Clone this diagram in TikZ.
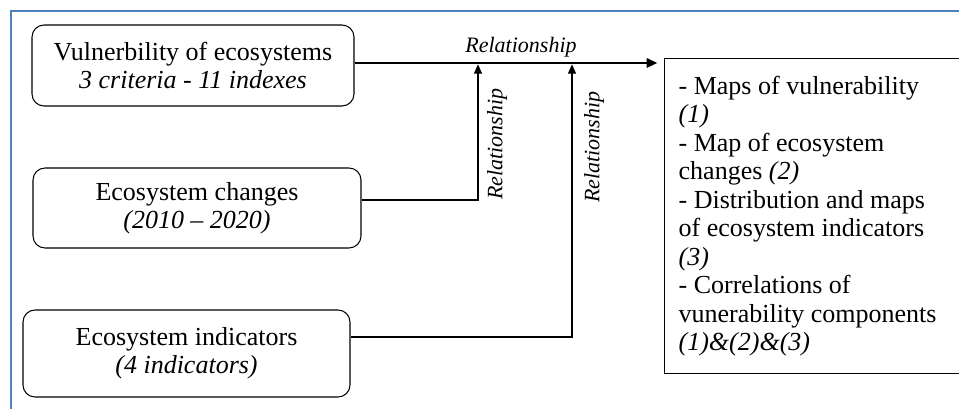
\documentclass[tikz,border=0pt]{standalone}
\usepackage{fontspec}
\setmainfont{Liberation Serif}
\usetikzlibrary{arrows.meta, positioning}

\definecolor{framecol}{RGB}{79,129,189}

\begin{document}
\begin{tikzpicture}[x=0.75pt, y=-0.75pt,
		inbox/.style = {draw, rounded corners=9pt, line width=0.8pt, align=center,
			font=\fontsize{19.5}{21}\selectfont},
		outbox/.style = {draw, line width=1pt, align=flush left, anchor=north west,
			inner xsep=10.5pt, font=\fontsize{19.5}{21.4}\selectfont},
		rel/.style = {font=\fontsize{16.5}{18}\selectfont\itshape, inner sep=0pt},
		relarrow/.style = {line width=0.9pt, -{Triangle[length=7pt, width=6pt]}, shorten >=1pt}]
	\useasboundingbox (0,0) rectangle (959,409);
	\draw[framecol, line width=2pt] (11,11) rectangle (1000,450);
	
	% inputs
	\node[inbox, minimum width=241.5pt, minimum height=60.75pt] (vuln) at (193,65.5)
		{Vulnerbility of ecosystems\\ \textit{3 criteria - 11 indexes}};
	\node[inbox, minimum width=246pt, minimum height=60pt] (chg) at (197,208)
		{Ecosystem changes\\ \textit{(2010 -- 2020)}};
	\node[inbox, minimum width=245.25pt, minimum height=65.25pt] (ind) at (186.5,353.5)
		{Ecosystem indicators\\ \textit{(4 indicators)}};
	
	% outputs
	\node[outbox, text width=219pt, minimum width=240pt, minimum height=236.25pt] (maps) at (664,58)
		{- Maps of vulnerability\\ \textit{(1)}\\ - Map of ecosystem\\ changes \textit{(2)}\\
		 - Distribution and maps\\ of ecosystem indicators\\ \textit{(3)}\\
		 - Correlations of\\ vunerability components\\ \textit{(1)\&(2)\&(3)}};
	
	\coordinate (j1) at (478,63);
	\coordinate (j2) at (572,63);
	
	\draw[line width=1.5pt, -{Triangle[length=8pt, width=7pt]}, shorten >=5pt]
		([yshift=1.9pt]vuln.east) -- ([yshift=1.9pt]vuln.east -| maps.west);
	\draw[relarrow] ([yshift=6pt]chg.east) -| (j1);
	\draw[relarrow] ([yshift=12.4pt]ind.east) -| (j2);
	
	\node[rel] (relmain) at (521,47) {Relationship};
	\node[rel, rotate=90] (rel1) at (497,144) {Relationship};
	\node[rel, rotate=90] (rel2) at (594,147) {Relationship};
\end{tikzpicture}
\end{document}
